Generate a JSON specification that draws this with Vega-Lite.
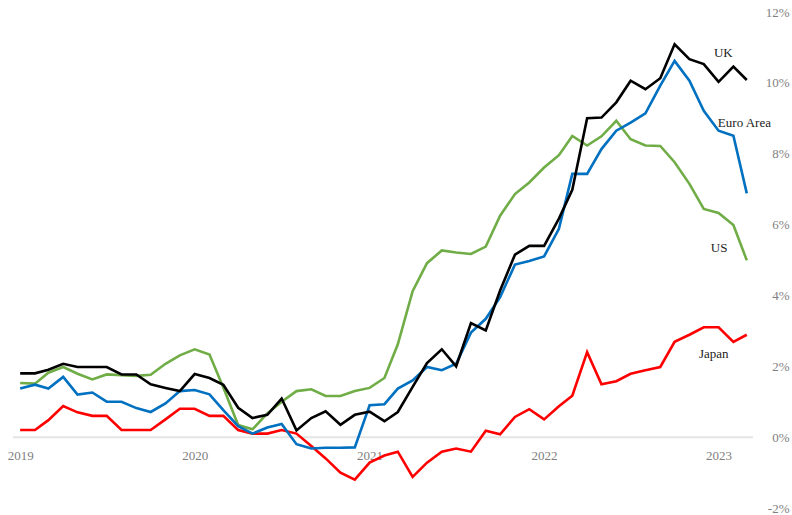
{
  "$schema": "https://vega.github.io/schema/vega-lite/v6.json",
  "width": 740,
  "height": 496,
  "autosize": {"type": "none"},
  "padding": {"left": 13, "top": 12, "right": 39, "bottom": 7},
  "background": "white",
  "config": {"view": {"stroke": null}, "font": "Liberation Serif"},
  "datasets": {
    "cpi": [
      {"date": "2019-01-01", "UK": 1.8, "EA": 1.37, "US": 1.53, "JP": 0.2},
      {"date": "2019-02-01", "UK": 1.8, "EA": 1.48, "US": 1.51, "JP": 0.2},
      {"date": "2019-03-01", "UK": 1.9, "EA": 1.37, "US": 1.82, "JP": 0.48},
      {"date": "2019-04-01", "UK": 2.07, "EA": 1.7, "US": 1.98, "JP": 0.88},
      {"date": "2019-05-01", "UK": 1.98, "EA": 1.2, "US": 1.79, "JP": 0.7},
      {"date": "2019-06-01", "UK": 1.98, "EA": 1.26, "US": 1.63, "JP": 0.6},
      {"date": "2019-07-01", "UK": 1.98, "EA": 1.0, "US": 1.77, "JP": 0.6},
      {"date": "2019-08-01", "UK": 1.77, "EA": 1.0, "US": 1.75, "JP": 0.2},
      {"date": "2019-09-01", "UK": 1.77, "EA": 0.82, "US": 1.73, "JP": 0.2},
      {"date": "2019-10-01", "UK": 1.49, "EA": 0.71, "US": 1.76, "JP": 0.2},
      {"date": "2019-11-01", "UK": 1.39, "EA": 0.95, "US": 2.07, "JP": 0.5},
      {"date": "2019-12-01", "UK": 1.3, "EA": 1.3, "US": 2.31, "JP": 0.8},
      {"date": "2020-01-01", "UK": 1.78, "EA": 1.33, "US": 2.48, "JP": 0.8},
      {"date": "2020-02-01", "UK": 1.67, "EA": 1.21, "US": 2.33, "JP": 0.6},
      {"date": "2020-03-01", "UK": 1.48, "EA": 0.76, "US": 1.4, "JP": 0.6},
      {"date": "2020-04-01", "UK": 0.83, "EA": 0.31, "US": 0.34, "JP": 0.2},
      {"date": "2020-05-01", "UK": 0.54, "EA": 0.1, "US": 0.22, "JP": 0.1},
      {"date": "2020-06-01", "UK": 0.63, "EA": 0.27, "US": 0.67, "JP": 0.1},
      {"date": "2020-07-01", "UK": 1.09, "EA": 0.37, "US": 1.0, "JP": 0.2},
      {"date": "2020-08-01", "UK": 0.19, "EA": -0.2, "US": 1.3, "JP": 0.1},
      {"date": "2020-09-01", "UK": 0.54, "EA": -0.32, "US": 1.35, "JP": -0.25},
      {"date": "2020-10-01", "UK": 0.73, "EA": -0.3, "US": 1.16, "JP": -0.6},
      {"date": "2020-11-01", "UK": 0.35, "EA": -0.3, "US": 1.16, "JP": -1.0},
      {"date": "2020-12-01", "UK": 0.63, "EA": -0.29, "US": 1.3, "JP": -1.2},
      {"date": "2021-01-01", "UK": 0.72, "EA": 0.9, "US": 1.39, "JP": -0.72},
      {"date": "2021-02-01", "UK": 0.45, "EA": 0.93, "US": 1.67, "JP": -0.52},
      {"date": "2021-03-01", "UK": 0.71, "EA": 1.37, "US": 2.62, "JP": -0.41},
      {"date": "2021-04-01", "UK": 1.42, "EA": 1.6, "US": 4.12, "JP": -1.12},
      {"date": "2021-05-01", "UK": 2.09, "EA": 1.98, "US": 4.91, "JP": -0.72},
      {"date": "2021-06-01", "UK": 2.48, "EA": 1.89, "US": 5.27, "JP": -0.41},
      {"date": "2021-07-01", "UK": 2.0, "EA": 2.07, "US": 5.21, "JP": -0.32},
      {"date": "2021-08-01", "UK": 3.22, "EA": 2.95, "US": 5.17, "JP": -0.41},
      {"date": "2021-09-01", "UK": 3.01, "EA": 3.34, "US": 5.38, "JP": 0.18},
      {"date": "2021-10-01", "UK": 4.14, "EA": 3.95, "US": 6.25, "JP": 0.08},
      {"date": "2021-11-01", "UK": 5.15, "EA": 4.87, "US": 6.86, "JP": 0.57},
      {"date": "2021-12-01", "UK": 5.4, "EA": 4.97, "US": 7.19, "JP": 0.79},
      {"date": "2022-01-01", "UK": 5.4, "EA": 5.1, "US": 7.61, "JP": 0.5},
      {"date": "2022-02-01", "UK": 6.17, "EA": 5.88, "US": 7.96, "JP": 0.87},
      {"date": "2022-03-01", "UK": 6.98, "EA": 7.43, "US": 8.5, "JP": 1.17},
      {"date": "2022-04-01", "UK": 9.0, "EA": 7.43, "US": 8.23, "JP": 2.4},
      {"date": "2022-05-01", "UK": 9.02, "EA": 8.13, "US": 8.49, "JP": 1.49},
      {"date": "2022-06-01", "UK": 9.45, "EA": 8.65, "US": 8.93, "JP": 1.58},
      {"date": "2022-07-01", "UK": 10.06, "EA": 8.88, "US": 8.41, "JP": 1.79},
      {"date": "2022-08-01", "UK": 9.82, "EA": 9.14, "US": 8.23, "JP": 1.89},
      {"date": "2022-09-01", "UK": 10.13, "EA": 9.92, "US": 8.22, "JP": 1.98},
      {"date": "2022-10-01", "UK": 11.09, "EA": 10.62, "US": 7.76, "JP": 2.69},
      {"date": "2022-11-01", "UK": 10.67, "EA": 10.06, "US": 7.15, "JP": 2.89},
      {"date": "2022-12-01", "UK": 10.53, "EA": 9.21, "US": 6.44, "JP": 3.1},
      {"date": "2023-01-01", "UK": 10.03, "EA": 8.65, "US": 6.33, "JP": 3.1},
      {"date": "2023-02-01", "UK": 10.46, "EA": 8.51, "US": 5.99, "JP": 2.69},
      {"date": "2023-03-01", "UK": 10.08, "EA": 6.88, "US": 4.99, "JP": 2.89}
    ],
    "labels": [
      {"date": "2023-01-11", "value": 10.83, "label": "UK"},
      {"date": "2023-02-24", "value": 8.86, "label": "Euro Area"},
      {"date": "2023-01-02", "value": 5.33, "label": "US"},
      {"date": "2022-12-22", "value": 2.36, "label": "Japan"}
    ]
  },
  "layer": [
    {
      "data": {"values": [{}]},
      "mark": {"type": "rule", "color": "#e4e4e4", "strokeWidth": 2},
      "encoding": {
        "y": {"datum": 0, "type": "quantitative", "scale": {"domain": [-2, 12], "nice": false, "zero": false}, "title": null}
      }
    },
    {
      "data": {"name": "cpi"},
      "transform": [{"fold": ["JP", "US", "EA", "UK"], "as": ["series", "value"]}],
      "mark": {"type": "line", "strokeWidth": 2.6, "strokeJoin": "miter", "strokeMiterLimit": 3},
      "encoding": {
        "x": {
          "field": "date", "type": "temporal",
          "scale": {"type": "utc", "domain": [{"year": 2018, "month": 12, "date": 17, "utc": true}, {"year": 2023, "month": 3, "date": 14, "utc": true}]},
          "title": null,
          "axis": {
            "orient": "bottom", "offset": -71, "domain": false, "ticks": false, "tickSize": 0, "grid": false,
            "values": [{"year": 2019, "month": 1, "date": 1, "utc": true}, {"year": 2020, "month": 1, "date": 1, "utc": true}, {"year": 2021, "month": 1, "date": 1, "utc": true}, {"year": 2022, "month": 1, "date": 1, "utc": true}, {"year": 2023, "month": 1, "date": 1, "utc": true}],
            "labelExpr": "utcFormat(datum.value, '%Y')",
            "labelFlush": false, "labelPadding": 12, "labelFontSize": 13, "labelColor": "#808080", "labelFont": "Liberation Serif"
          }
        },
        "y": {
          "field": "value", "type": "quantitative",
          "scale": {"domain": [-2, 12], "nice": false, "zero": false},
          "title": null,
          "axis": {
            "orient": "right", "values": [-2, 0, 2, 4, 6, 8, 10, 12], "labelExpr": "datum.value + '%'",
            "grid": false, "domain": false, "ticks": false, "tickSize": 0, "labelPadding": 36, "labelAlign": "right",
            "labelFontSize": 13, "labelColor": "#808080", "labelFont": "Liberation Serif"
          }
        },
        "color": {
          "field": "series", "type": "nominal", "legend": null,
          "scale": {"domain": ["JP", "US", "EA", "UK"], "range": ["#ff0000", "#70ad47", "#0070c0", "#000000"]}
        }
      }
    },
    {
      "data": {"name": "labels"},
      "mark": {"type": "text", "font": "Liberation Serif", "fontSize": 13, "color": "#222222", "align": "center", "baseline": "middle"},
      "encoding": {
        "x": {"field": "date", "type": "temporal", "scale": {"type": "utc", "domain": [{"year": 2018, "month": 12, "date": 17, "utc": true}, {"year": 2023, "month": 3, "date": 14, "utc": true}]}, "title": null},
        "y": {"field": "value", "type": "quantitative", "scale": {"domain": [-2, 12], "nice": false, "zero": false}, "title": null},
        "text": {"field": "label"}
      }
    }
  ]
}
